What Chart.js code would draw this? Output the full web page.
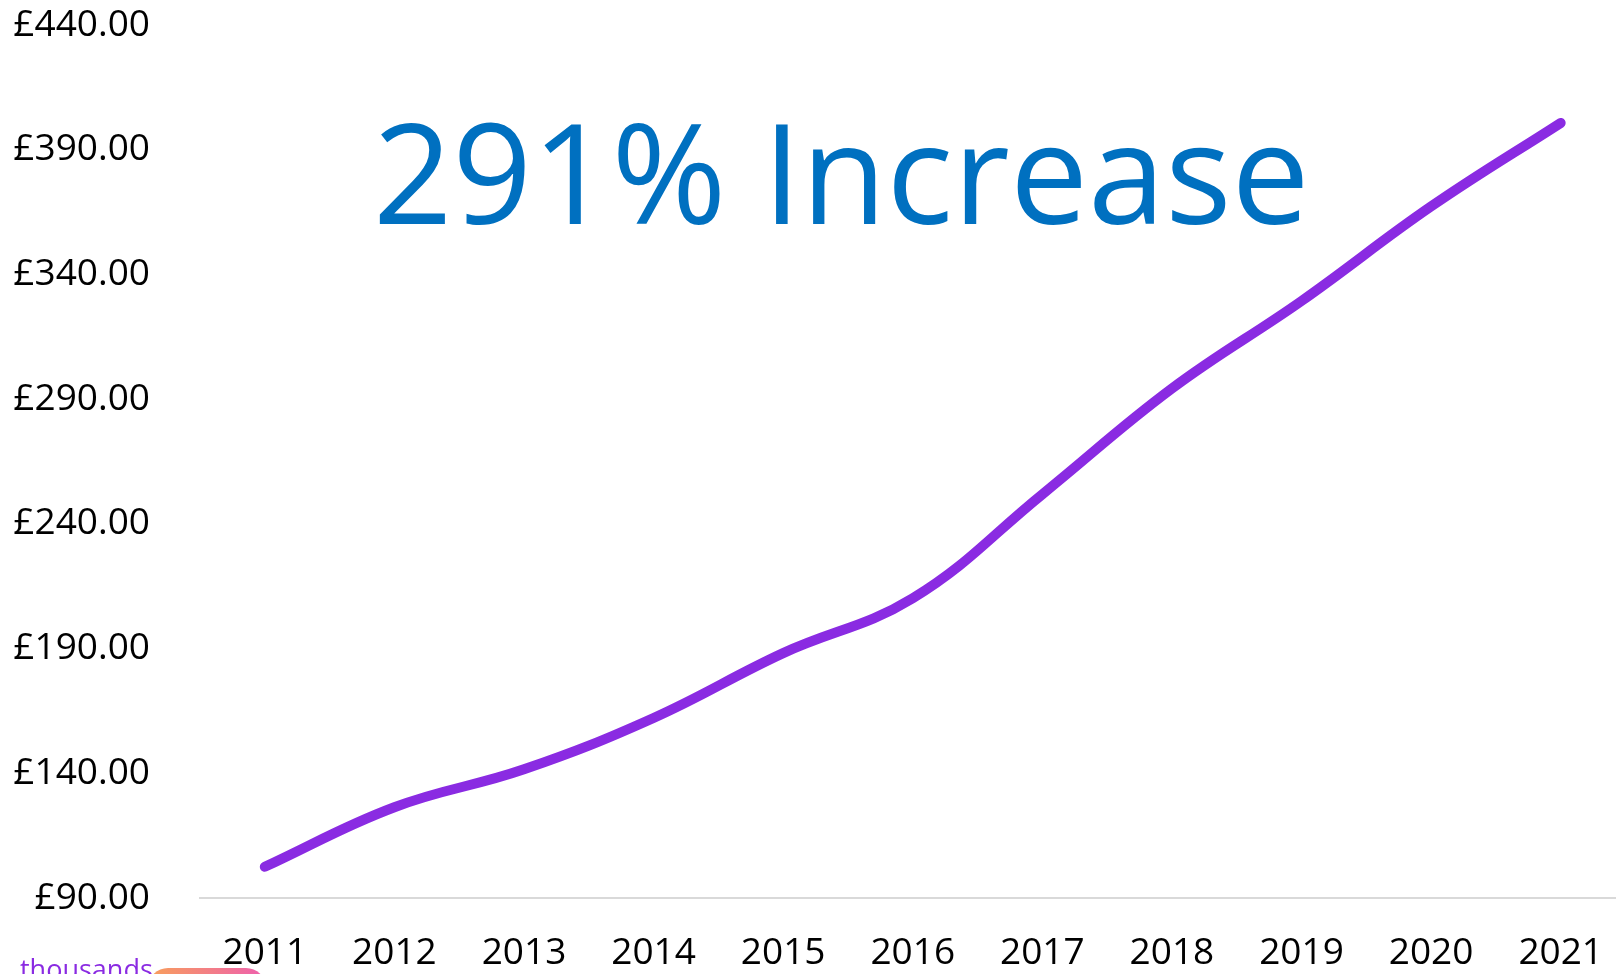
<!DOCTYPE html>
<html lang="en">

<head>
    <meta charset="UTF-8">
    <title>291% Increase</title>
    <script src="https://cdn.jsdelivr.net/npm/chart.js"></script>
    <style>
        html, body { margin: 0; padding: 0; background: #fff; overflow: hidden; }
        #wrap { position: relative; width: 1636px; height: 974px; overflow: hidden; }
        #chart { position: absolute; left: 0; top: -47px; }
        #headline {
            position: absolute; left: 373px; top: 101px;
            font-family: "Open Sans", sans-serif; font-size: 139px; color: #0070c0;
            white-space: nowrap; line-height: 1;
        }
        #note {
            position: absolute; left: 20px; top: 955px;
            font-family: "Open Sans", sans-serif; font-size: 27px; color: #8a2be2; line-height: 1;
        }
        #pill {
            position: absolute; left: 148px; top: 968px; width: 118px; height: 40px;
            border-radius: 20px; background: linear-gradient(90deg, #f8a05a, #ee5fae);
        }
    </style>
</head>

<body>
    <div id="wrap">
        <canvas id="chart" width="1636" height="1021"></canvas>
        <div id="headline">291% Increase</div>
        <div id="note">thousands</div>
        <div id="pill"></div>
    </div>

    <script>
        const years = ['2011', '2012', '2013', '2014', '2015', '2016', '2017', '2018', '2019', '2020', '2021'];
        const prices = [102.5, 126.4, 141.6, 162.2, 188.2, 210.2, 251.9, 294.3, 329.4, 367.3, 400.8];
        const yMin = 90;
        const yMax = 440;
        const yStep = 50;

        const tickFont = { family: 'Open Sans', size: 37 };

        new Chart(document.getElementById('chart'), {
            type: 'line',
            data: {
                labels: years,
                datasets: [{
                    data: prices,
                    borderColor: '#8a2be2',
                    borderWidth: 10,
                    borderCapStyle: 'round',
                    borderJoinStyle: 'round',
                    tension: 0.4,
                    pointRadius: 0,
                    fill: false
                }]
            },
            options: {
                responsive: false,
                animation: false,
                layout: { padding: { top: -24, right: 0, bottom: 0, left: 0 } },
                plugins: { legend: { display: false }, tooltip: { enabled: false } },
                scales: {
                    x: {
                        offset: true,
                        grid: { display: false, drawTicks: false },
                        border: { display: true, color: '#d9d9d9', width: 2 },
                        ticks: { color: '#000', font: tickFont, padding: 33, maxRotation: 0 },
                        afterFit: s => { s.height = 76; }
                    },
                    y: {
                        min: yMin,
                        max: yMax,
                        grid: { display: false, drawTicks: false },
                        border: { display: false },
                        ticks: {
                            stepSize: yStep,
                            color: '#000',
                            font: tickFont,
                            padding: 50,
                            callback: v => '£' + v.toFixed(2)
                        },
                        afterFit: s => { s.width = 200; }
                    }
                }
            }
        });
    </script>
</body>

</html>
